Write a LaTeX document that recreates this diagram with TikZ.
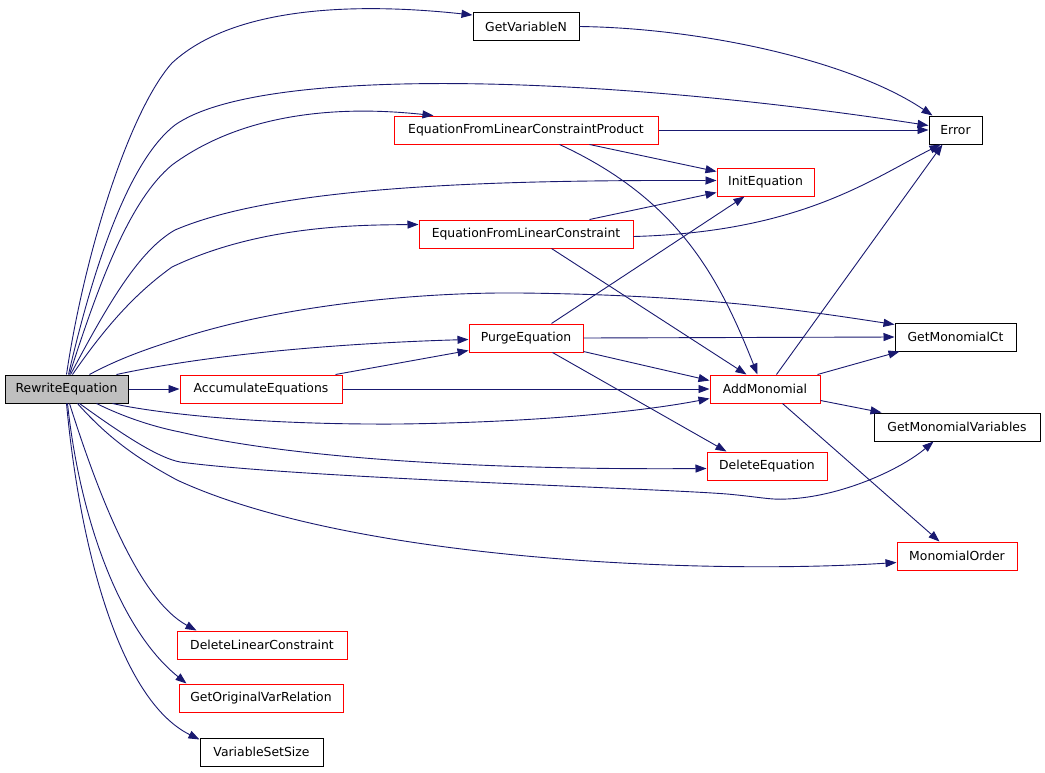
\documentclass[tikz,border=0pt]{standalone}
\usepackage{fontspec}
\setmainfont{DejaVu Sans}
\usetikzlibrary{arrows.meta,calc}
\definecolor{edgeblue}{HTML}{191970}
\definecolor{nodegray}{HTML}{BFBFBF}
\begin{document}
\begin{tikzpicture}[x=1pt,y=-1pt,
  fn/.style={draw=black,line width=1pt,rectangle,inner sep=0pt,minimum height=28pt,font=\fontsize{12.4}{14}\selectfont},
  redfn/.style={fn,draw=red},
  mainfn/.style={fn,fill=nodegray},
  call/.style={draw=edgeblue,line width=0.9pt,-{Triangle[length=11pt,width=8pt]}}]
\useasboundingbox[fill=white] (0,0) rectangle (1045,772);
% nodes
\node[mainfn,minimum width=123pt] (r) at (66.5,389) {RewriteEquation};
\node[redfn,minimum width=162pt] (acc) at (261,389) {AccumulateEquations};
\node[fn,minimum width=106pt] (gvn) at (526,26.5) {GetVariableN};
\node[redfn,minimum width=264pt] (eflcp) at (526,130) {EquationFromLinearConstraintProduct};
\node[fn,minimum width=53pt] (err) at (955.5,130) {Error};
\node[redfn,minimum width=97pt] (init) at (765.5,182) {InitEquation};
\node[redfn,minimum width=214pt] (eflc) at (526,234) {EquationFromLinearConstraint};
\node[redfn,minimum width=114pt] (purge) at (526,338) {PurgeEquation};
\node[fn,minimum width=121pt] (gmct) at (955.5,337) {GetMonomialCt};
\node[redfn,minimum width=110pt] (am) at (765,389) {AddMonomial};
\node[fn,minimum width=166pt] (gmv) at (957,427) {GetMonomialVariables};
\node[redfn,minimum width=120pt] (deq) at (767,466) {DeleteEquation};
\node[redfn,minimum width=120pt] (mo) at (957,556) {MonomialOrder};
\node[redfn,minimum width=170pt] (dlc) at (262,645) {DeleteLinearConstraint};
\node[redfn,minimum width=164pt] (govr) at (261,698) {GetOriginalVarRelation};
\node[fn,minimum width=123pt] (vss) at (261.5,752) {VariableSetSize};
% edges from RewriteEquation
\draw[call] ($(r.north west)+(62,0)$) .. controls (85,250) and (130,110) .. (172,63) .. controls (240,0) and (380,5) .. ($(gvn.north west)+(0,3)$);
\draw[call] ($(r.north west)+(64,0)$) .. controls (95,260) and (130,160) .. (175,125) .. controls (260,65) and (600,75) .. ($(err.north west)+(0,10)$);
\draw[call] ($(r.north west)+(65,0)$) .. controls (100,280) and (130,200) .. (172,165) .. controls (260,100) and (380,110) .. ($(eflcp.north west)+(40,0)$);
\draw[call] ($(r.north west)+(66,0)$) .. controls (110,300) and (140,250) .. (175,230) .. controls (280,185) and (500,180) .. ($(init.north west)+(0,13)$);
\draw[call] ($(r.north west)+(68,0)$) .. controls (110,320) and (140,290) .. (172,267) .. controls (260,225) and (360,225) .. ($(eflc.north west)+(0,5)$);
\draw[call] ($(r.north west)+(85,0)$) .. controls (120,358) and (150,348) .. (175,340) .. controls (280,305) and (420,292) .. (520,293) .. controls (700,295) and (800,310) .. ($(gmct.north west)+(0,2)$);
\draw[call] ($(r.north west)+(112,0)$) .. controls (230,350) and (380,342) .. ($(purge.north west)+(0,16)$);
\draw[call] (r.east) -- (acc.west);
\draw[call] ($(r.south west)+(108,0)$) .. controls (150,412) and (250,425) .. (400,424) .. controls (550,422) and (650,410) .. ($(am.south west)+(0,-5)$);
\draw[call] ($(r.south west)+(92,0)$) .. controls (130,420) and (160,428) .. (180,432) .. controls (300,460) and (500,470) .. ($(deq.north west)+(0,17)$);
\draw[call] ($(r.south west)+(75,0)$) .. controls (130,440) and (160,458) .. (180,462) .. controls (300,478) and (650,488) .. (727,494) .. controls (760,497) and (770,500) .. (787,499) .. controls (840,497) and (900,470) .. ($(gmv.south west)+(60,0)$);
\draw[call] ($(r.south west)+(73,0)$) .. controls (110,440) and (140,460) .. (177,480) .. controls (350,560) and (700,575) .. ($(mo.north west)+(0,21)$);
\draw[call] ($(r.south west)+(65,0)$) .. controls (100,500) and (140,600) .. ($(dlc.north west)+(20,0)$);
\draw[call] ($(r.south west)+(63,0)$) .. controls (80,520) and (120,630) .. ($(govr.north west)+(8,0)$);
\draw[call] ($(r.south west)+(62,0)$) .. controls (80,550) and (120,700) .. ($(vss.north west)+(0,2)$);
% other edges
\draw[call] (gvn.east) .. controls (700,28) and (850,60) .. ($(err.north west)+(4,0)$);
\draw[call] (eflcp.east) -- (err.west);
\draw[call] ($(eflcp.south west)+(196,0)$) -- ($(init.north west)+(0,4)$);
\draw[call] ($(eflcp.south west)+(166,0)$) .. controls (680,200) and (720,280) .. ($(am.north west)+(48,0)$);
\draw[call] ($(eflc.north west)+(171,0)$) -- ($(init.north west)+(0,25)$);
\draw[call] ($(eflc.north east)+(0,17)$) .. controls (800,232) and (870,180) .. ($(err.south west)+(12,0)$);
\draw[call] ($(eflc.south west)+(133,0)$) -- ($(am.north west)+(37,0)$);
\draw[call] ($(purge.north west)+(83,0)$) -- ($(init.south west)+(28,0)$);
\draw[call] (purge.east) -- (gmct.west);
\draw[call] ($(purge.south east)+(0,-1)$) -- ($(am.north west)+(0,6)$);
\draw[call] ($(purge.south west)+(84,0)$) -- ($(deq.north west)+(20,0)$);
\draw[call] ($(acc.north east)+(-7,0)$) -- ($(purge.south west)+(0,-2)$);
\draw[call] (acc.east) -- (am.west);
\draw[call] ($(am.north west)+(67,0)$) -- ($(err.south west)+(14,0)$);
\draw[call] ($(am.north east)+(-3,0)$) -- ($(gmct.south west)+(5,0)$);
\draw[call] ($(am.south east)+(0,-3)$) -- ($(gmv.north west)+(8,0)$);
\draw[call] ($(am.south west)+(73,0)$) -- ($(mo.north west)+(43,0)$);
\end{tikzpicture}
\end{document}
